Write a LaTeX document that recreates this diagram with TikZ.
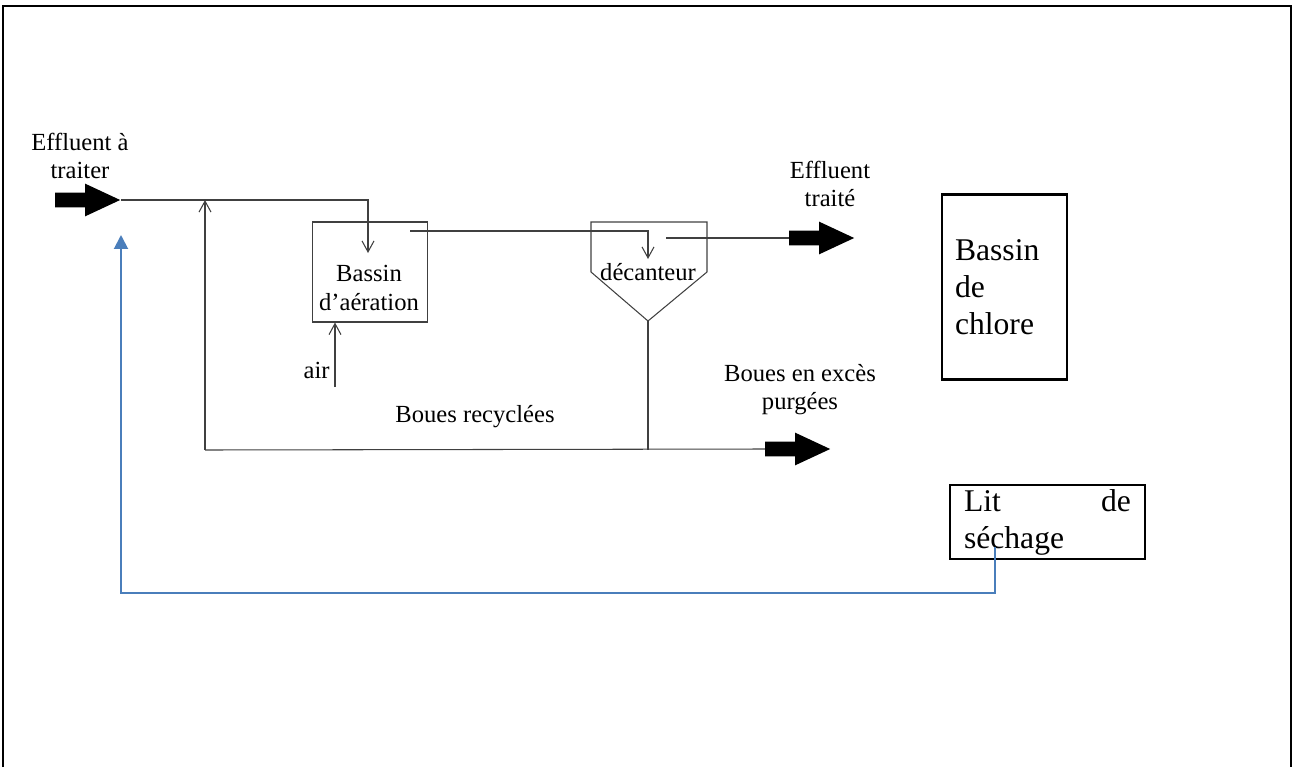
\documentclass[tikz,border=0pt]{standalone}
\usepackage{fontspec}
\setmainfont{Liberation Serif}
\usepackage{tikz}
\usetikzlibrary{shapes.arrows, arrows.meta, positioning, calc}

\begin{document}
\begin{tikzpicture}[
    x=0.02cm, y=-0.02cm,
    box/.style={draw=black!75, line width=0.6pt, rectangle, inner sep=0pt},
    bigbox/.style={draw, line width=1.2pt, rectangle, inner ysep=0pt, align=left, font=\fontsize{18}{21}\selectfont},
    lbl/.style={align=center, inner sep=0pt, font=\fontsize{14}{16}\selectfont},
    flow/.style={draw=black!75, line width=0.6pt},
    arrow/.style={flow, -{Straight Barb[length=0.22cm, width=0.24cm]}},
    fat/.style={single arrow, fill=black, inner xsep=0pt, inner ysep=0.14cm, minimum height=1.3cm, minimum width=0.64cm, single arrow head extend=0.18cm, single arrow tip angle=50},
    retour/.style={draw={rgb,255:red,74;green,126;blue,187}, line width=1.1pt, -{Triangle[length=0.28cm, width=0.28cm]}},
]
\useasboundingbox (0,0) rectangle (1294,767);

% Frame
\draw[line width=1.1pt] (3,767) -- (3,6) -- (1291,6) -- (1291,767);

% Inlet
\node[lbl] (inlbl) at (80,156) {Effluent à\\traiter};
\node[fat, anchor=tip] (inarr) at (121,200) {};

% Aeration basin
\node[box, minimum width=2.3cm, minimum height=2cm] (aer) at (370,272) {};
\node[lbl] (aerlbl) at (369,288) {Bassin\\d’aération};
\coordinate (aerin) at (368,253);
\coordinate (aerout) at (410,231);

% Air
\node[lbl, anchor=east] (air) at (330,370) {air};
\coordinate (airsrc) at (335,387);

% Settler
\coordinate (d1) at (591,222);
\coordinate (d2) at (707,222);
\coordinate (d3) at (707,272);
\coordinate (apex) at (648,321);
\coordinate (d4) at (591,272);
\draw[flow] (d4) -- (d1) -- (d2) -- (d3) -- (apex) -- cycle;
\node[lbl] (dec) at (648,272) {décanteur};
\coordinate (decin) at (648,259);
\coordinate (decout) at (666,238);

% Treated effluent
\node[lbl] (outlbl) at (830,184) {Effluent\\traité};
\node[fat, anchor=tip] (outarr) at (855,238) {};

% Sludge
\coordinate (rec) at (205,450);
\coordinate (recup) at (205,200);
\coordinate (jb) at (648,450);
\node[lbl] (reclbl) at (475,417) {Boues recyclées};
\node[lbl] (purglbl) at (800,390) {Boues en excès\\purgées};
\node[fat, anchor=tip] (purgarr) at (831,449) {};

% Chlorine basin
\node[bigbox, minimum width=2.5cm, minimum height=3.7cm, text width=1.98cm, inner xsep=0.26cm] (chlore) at (1004.5,287) {Bassin\\de\\chlore};

% Drying bed
\node[bigbox, minimum width=3.9cm, minimum height=1.48cm, text width=3.34cm, inner xsep=0.28cm] (seche) at (1047.5,522) {Lit\hfill de\\séchage};
\coordinate (secheout) at (995,547);
\coordinate (sechebend) at (995,593);
\coordinate (retin) at (121,235);

% Arrows
\draw[arrow] (inarr.tip) -| (aerin);
\draw[arrow] (rec) -- (recup);
\draw[arrow] (airsrc) -- (aer.south -| airsrc);
\draw[arrow] (aerout) -| (decin);
\draw[flow] (decout) -- (outarr.tail);
\draw[flow] (apex) -- (jb);
\draw[flow] (rec) -- (purgarr.tail);
\draw[retour] (secheout) -- (sechebend) -| (retin);

\end{tikzpicture}
\end{document}
